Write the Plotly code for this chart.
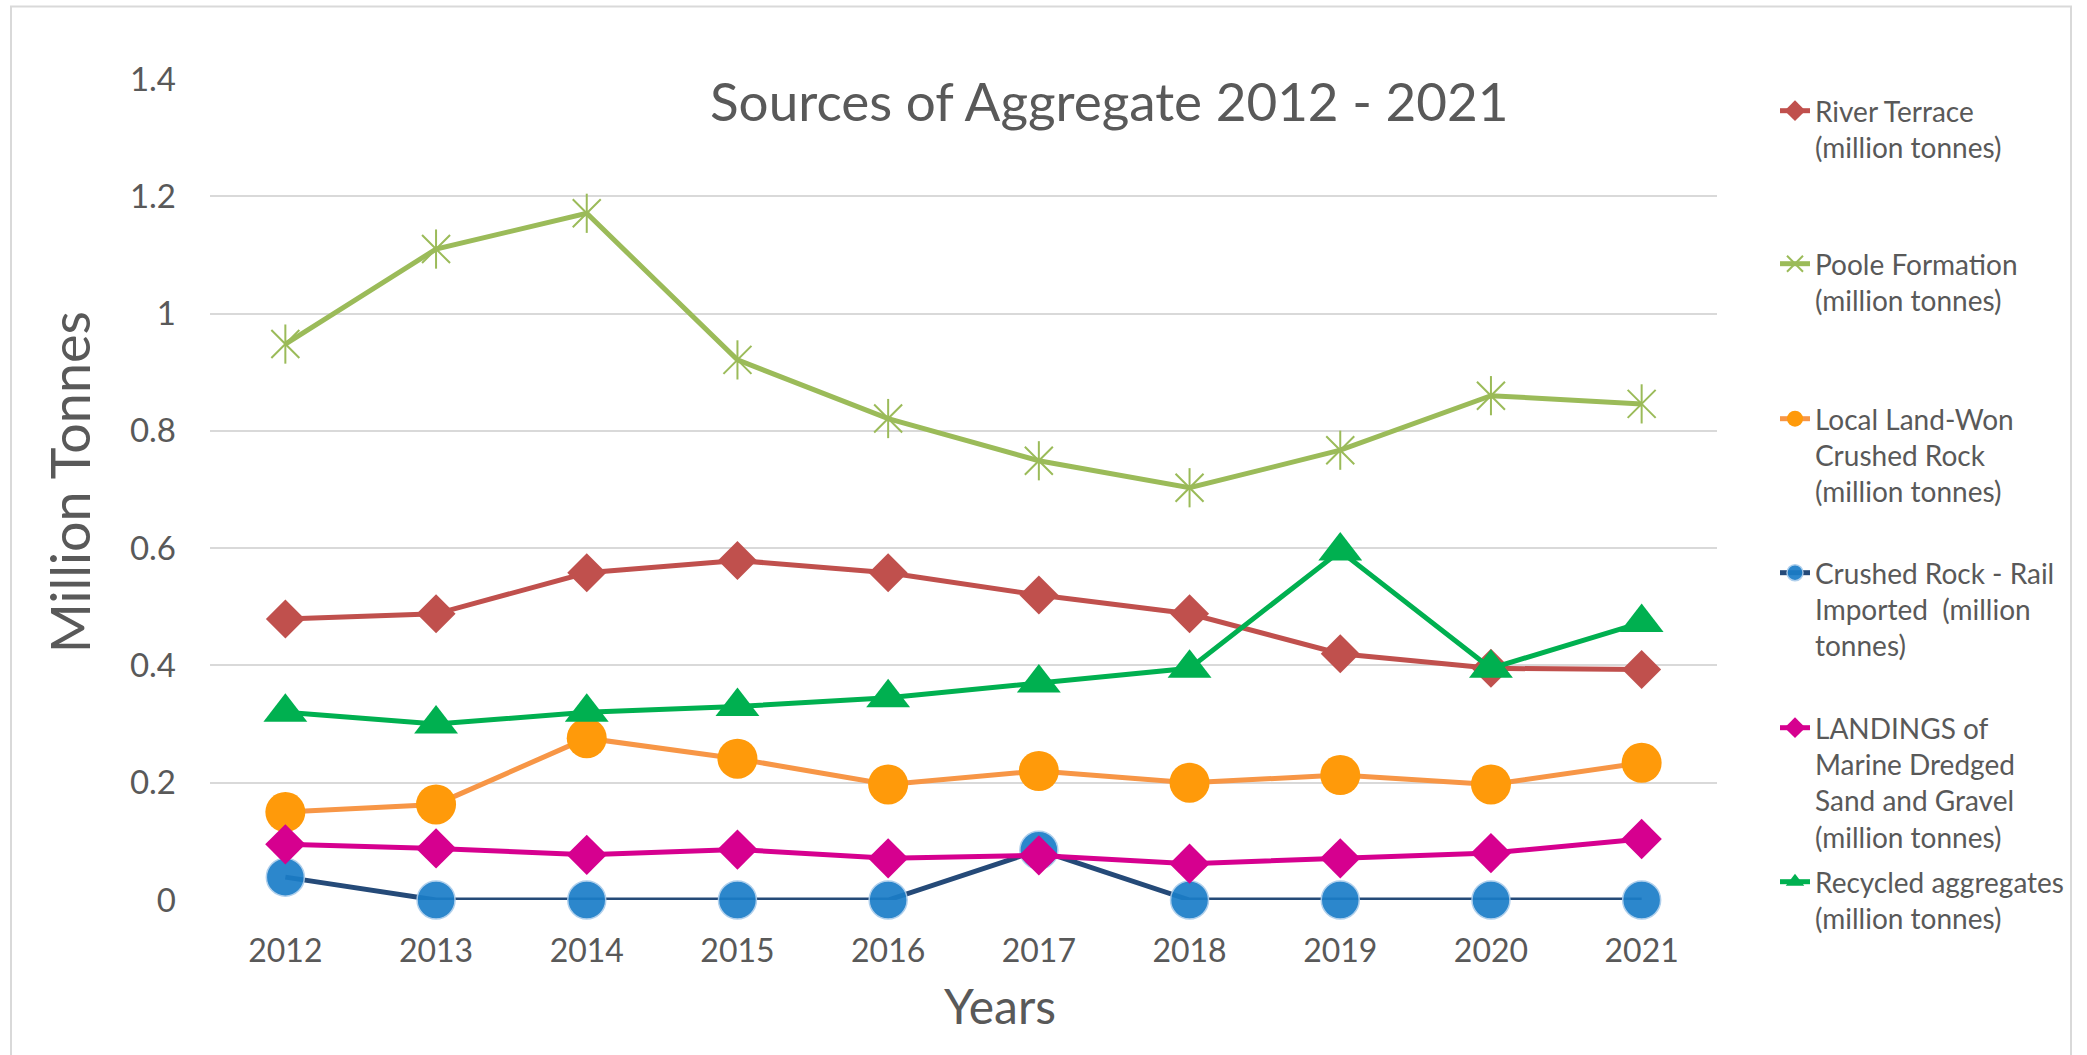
import plotly.graph_objects as go

years = ["2012", "2013", "2014", "2015", "2016", "2017", "2018", "2019", "2020", "2021"]
river_terrace = [0.479, 0.488, 0.558, 0.579, 0.558, 0.520, 0.488, 0.420, 0.395, 0.393]
poole_formation = [0.948, 1.110, 1.171, 0.921, 0.821, 0.749, 0.703, 0.767, 0.860, 0.846]
local_land_won = [0.150, 0.163, 0.276, 0.241, 0.197, 0.220, 0.200, 0.213, 0.197, 0.234]
crushed_rock_rail = [0.039, 0.0, 0.0, 0.0, 0.0, 0.085, 0.0, 0.0, 0.0, 0.0]
landings_marine = [0.095, 0.088, 0.077, 0.086, 0.071, 0.076, 0.062, 0.071, 0.080, 0.104]
recycled = [0.320, 0.300, 0.320, 0.330, 0.345, 0.370, 0.395, 0.595, 0.395, 0.473]

names = [
    "River Terrace<br>(million tonnes)",
    "Poole Formation<br>(million tonnes)",
    "Local Land-Won<br>Crushed Rock<br>(million tonnes)",
    "Crushed Rock - Rail<br>Imported  (million<br>tonnes)",
    "LANDINGS of<br>Marine Dredged<br>Sand and Gravel<br>(million tonnes)",
    "Recycled aggregates<br>(million tonnes)",
]

FONT = "Lato"
TXT = "#595959"
W, H = 2087, 1055
L, R, T, B = 210, 370, 78.5, 155
PW, PH = W - L - R, H - T - B
LW = 5


def px(xp):
    return (xp - L) / PW


def py(yp):
    return (H - B - yp) / PH


fig = go.Figure()

fig.add_trace(go.Scatter(
    x=years, y=river_terrace, name=names[0], mode="lines+markers", legend="legend",
    line=dict(color="#C0504D", width=LW),
    marker=dict(symbol="diamond", size=30, color="#C0504D"), cliponaxis=False))

fig.add_trace(go.Scatter(
    x=years, y=poole_formation, name=names[1], mode="lines+markers", legend="legend2",
    line=dict(color="#9BBB59", width=LW),
    marker=dict(symbol="x-thin-open", size=28, color="#9BBB59",
                line=dict(color="#9BBB59", width=2)), cliponaxis=False))
fig.add_trace(go.Scatter(
    x=years, y=poole_formation, mode="markers", showlegend=False, hoverinfo="skip",
    marker=dict(symbol="line-ns-open", size=28, color="#9BBB59",
                line=dict(color="#9BBB59", width=2)), cliponaxis=False))

fig.add_trace(go.Scatter(
    x=years, y=local_land_won, name=names[2], mode="lines+markers", legend="legend3",
    line=dict(color="#F79646", width=LW),
    marker=dict(symbol="circle", size=40, color="#FF9A0A"), cliponaxis=False))

fig.add_trace(go.Scatter(
    x=years, y=crushed_rock_rail, name=names[3], mode="lines+markers", legend="legend4",
    line=dict(color="#254A78", width=LW),
    marker=dict(symbol="circle", size=38, color="#1B7DC8", opacity=0.92,
                line=dict(color="#A9CCEB", width=1.5)), cliponaxis=False))

fig.add_trace(go.Scatter(
    x=years, y=landings_marine, name=names[4], mode="lines+markers", legend="legend5",
    line=dict(color="#D6008F", width=LW),
    marker=dict(symbol="diamond", size=31, color="#D6008F"), cliponaxis=False))

fig.add_trace(go.Scatter(
    x=years, y=recycled, name=names[5], mode="lines+markers", legend="legend6",
    line=dict(color="#00B050", width=LW),
    marker=dict(symbol="triangle-up", size=38, color="#00B050"), cliponaxis=False))

centers = [112, 265, 420, 574, 729, 883]
leg_common = dict(xref="container", yref="container", xanchor="left", yanchor="top",
                  bgcolor="rgba(0,0,0,0)", valign="top",
                  font=dict(family=FONT, size=28, color=TXT))
legends = {}
for i, c in enumerate(centers):
    key = "legend" if i == 0 else f"legend{i + 1}"
    legends[key] = dict(leg_common, x=1775 / W, y=1 - (c - 26) / H)

fig.update_layout(
    width=W, height=H,
    margin=dict(l=L, r=R, t=T, b=B),
    paper_bgcolor="white", plot_bgcolor="white",
    font=dict(family=FONT, color=TXT),
    showlegend=True,
    **legends,
    xaxis=dict(type="category", range=[-0.5, 9.5], showgrid=False, zeroline=False,
               showline=False, ticks="", tickfont=dict(family=FONT, size=32, color=TXT),
               ticklabelstandoff=29),
    yaxis=dict(range=[0, 1.4], dtick=0.2, tick0=0, showgrid=True, gridcolor="#D9D9D9",
               gridwidth=1.5, zeroline=False, showline=False, ticks="",
               tickfont=dict(family=FONT, size=33, color=TXT), ticklabelstandoff=33),
    annotations=[
        dict(text="Sources of Aggregate 2012 - 2021", xref="paper", yref="paper",
             x=px(1109), y=py(100), xanchor="center", yanchor="middle", showarrow=False,
             font=dict(family=FONT, size=53, color=TXT)),
        dict(text="Million Tonnes", xref="paper", yref="paper", textangle=-90,
             x=px(69), y=py(482), xanchor="center", yanchor="middle", showarrow=False,
             font=dict(family=FONT, size=54, color=TXT)),
        dict(text="Years", xref="paper", yref="paper",
             x=px(1000), y=py(1006), xanchor="center", yanchor="middle", showarrow=False,
             font=dict(family=FONT, size=48, color=TXT)),
    ],
    shapes=[
        dict(type="rect", xref="paper", yref="paper",
             x0=px(11), x1=px(2071), y0=py(1070), y1=py(6),
             line=dict(color="#D9D9D9", width=2), fillcolor="rgba(0,0,0,0)", layer="below"),
    ],
)

fig.write_html("out.html")
